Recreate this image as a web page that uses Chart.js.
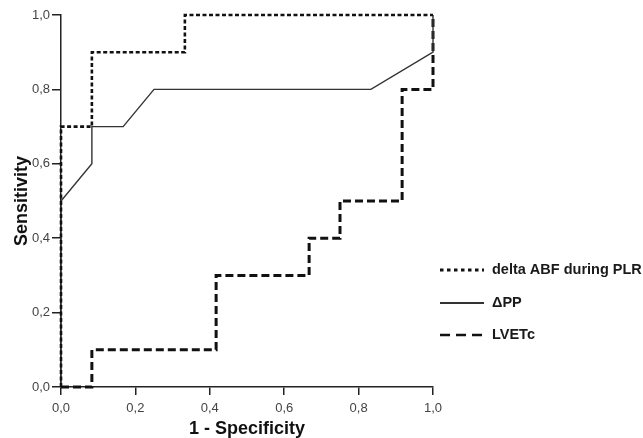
<!DOCTYPE html>
<html>
<head>
<meta charset="utf-8">
<script src="https://cdn.jsdelivr.net/npm/chart.js@4"></script>
<style>
html,body{margin:0;padding:0;background:#fff;}
canvas{display:block;}
</style>
</head>
<body>
<canvas id="c" width="643" height="438"></canvas>
<script>
// ROC data (x = 1 - specificity, y = sensitivity)
const seriesNames = ['delta ABF during PLR', '\u0394PP', 'LVETc'];
const abfX = [0, 0, 0.083, 0.083, 0.333, 0.333, 1];
const abfY = [0, 0.7, 0.7, 0.9, 0.9, 1.0, 1.0];
const ppX = [0, 0, 0.083, 0.083, 0.167, 0.25, 0.833, 1, 1];
const ppY = [0, 0.5, 0.6, 0.7, 0.7, 0.8, 0.8, 0.9, 1.0];
const lvX = [0, 0.083, 0.083, 0.417, 0.417, 0.667, 0.667, 0.75, 0.75, 0.917, 0.917, 1, 1];
const lvY = [0, 0, 0.1, 0.1, 0.3, 0.3, 0.4, 0.4, 0.5, 0.5, 0.8, 0.8, 1.0];
const tickValues = [0, 0.2, 0.4, 0.6, 0.8, 1.0];
const xTitle = '1 - Specificity';
const yTitle = 'Sensitivity';

const pts = (xs, ys) => xs.map((x, i) => ({x: x, y: ys[i]}));
const FONT = "'Liberation Sans', Arial, sans-serif";
const fmt = v => Number(v).toFixed(1).replace('.', ',');

const legendPlugin = {
  id: 'sideLegend',
  afterDraw(chart) {
    const ctx = chart.ctx;
    const rows = [270, 303, 335];
    ctx.save();
    chart.data.datasets.forEach((ds, i) => {
      const y = rows[i];
      ctx.beginPath();
      ctx.strokeStyle = ds.borderColor;
      ctx.lineWidth = ds.legendWidth;
      ctx.setLineDash(ds.legendDash);
      ctx.moveTo(440, y);
      ctx.lineTo(484, y);
      ctx.stroke();
      ctx.setLineDash([]);
      ctx.fillStyle = '#1a1a1a';
      ctx.font = "bold 14.5px " + FONT;
      ctx.textBaseline = 'middle';
      ctx.textAlign = 'left';
      ctx.fillText(ds.label, 492, y);
    });
    ctx.restore();
  }
};

new Chart(document.getElementById('c'), {
  type: 'scatter',
  data: {
    datasets: [
      {label: seriesNames[0], data: pts(abfX, abfY), showLine: true, borderColor: '#111', borderWidth: 2.6, borderDash: [4, 2.5], pointRadius: 0, clip: 6, legendDash: [3.5, 3.5], legendWidth: 3},
      {label: seriesNames[1], data: pts(ppX, ppY), showLine: true, borderColor: '#333', borderWidth: 1.4, borderDash: [], pointRadius: 0, clip: 6, legendDash: [], legendWidth: 2},
      {label: seriesNames[2], data: pts(lvX, lvY), showLine: true, borderColor: '#111', borderWidth: 3, borderDash: [8, 4], pointRadius: 0, clip: 6, legendDash: [10, 6], legendWidth: 2.6}
    ]
  },
  options: {
    responsive: false,
    animation: false,
    devicePixelRatio: 1,
    layout: {padding: {left: 0, right: 210, top: 15, bottom: 0}},
    plugins: {legend: {display: false}, tooltip: {enabled: false}},
    scales: {
      x: {
        type: 'linear', min: 0, max: 1,
        afterFit(s) { s.height = 51; },
        afterBuildTicks(s) { s.ticks = tickValues.map(v => ({value: v})); },
        border: {display: true, color: '#222', width: 1.5},
        grid: {drawOnChartArea: false, drawTicks: true, tickLength: 8, color: '#222', lineWidth: 1.5},
        ticks: {callback: fmt, color: '#444', font: {family: FONT, size: 13}, padding: 6, maxRotation: 0},
        title: {display: true, text: xTitle, color: '#111', font: {family: FONT, size: 18, weight: 'bold', lineHeight: 1.0}, padding: {top: 0, bottom: 0}}
      },
      y: {
        type: 'linear', min: 0, max: 1,
        afterFit(s) { s.width = 61; },
        afterBuildTicks(s) { s.ticks = tickValues.map(v => ({value: v})); },
        border: {display: true, color: '#222', width: 1.5},
        grid: {drawOnChartArea: false, drawTicks: true, tickLength: 9, color: '#222', lineWidth: 1.5},
        ticks: {callback: fmt, color: '#444', font: {family: FONT, size: 13}, padding: 2},
        title: {display: true, text: yTitle, color: '#111', font: {family: FONT, size: 18, weight: 'bold'}, padding: {top: 11, bottom: 0}}
      }
    }
  },
  plugins: [legendPlugin]
});
</script>
</body>
</html>
